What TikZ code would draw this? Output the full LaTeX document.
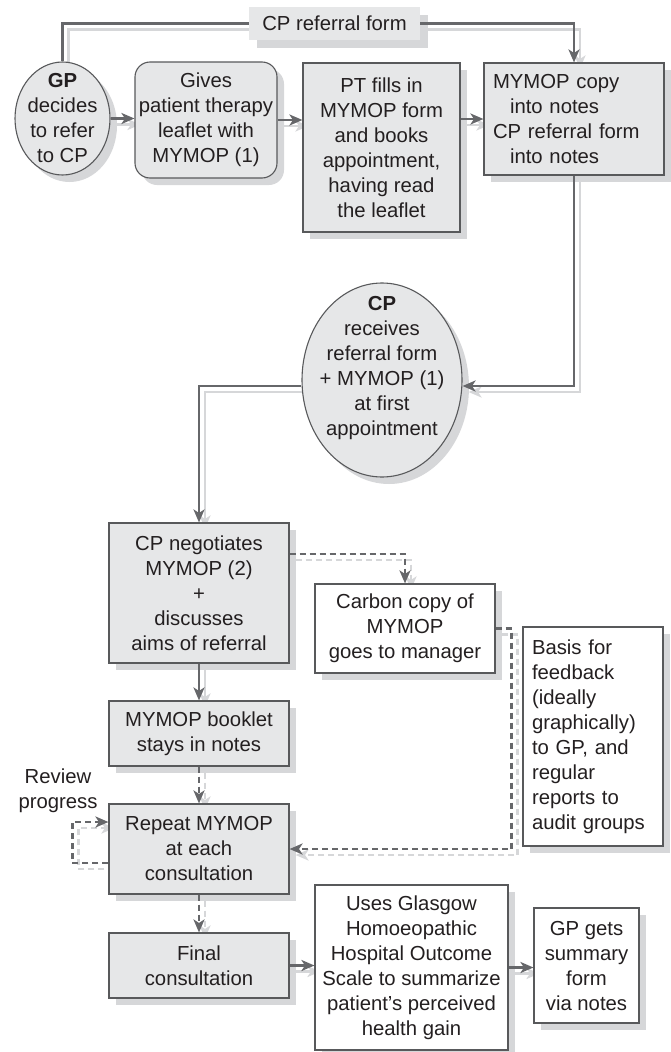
\documentclass[tikz,border=0pt]{standalone}
\usepackage{fontspec}
\setmainfont{Liberation Sans}
\usetikzlibrary{shapes.geometric,arrows.meta,shadows}
\pgfdeclarelayer{back}
\pgfsetlayers{back,main}
\definecolor{boxfill}{HTML}{E6E7E8}
\definecolor{shadefill}{HTML}{D6D7D9}
\definecolor{edge}{HTML}{58595B}
\definecolor{linkclr}{HTML}{66676A}
\definecolor{ink}{HTML}{231F20}

% all connectors of the flow chart; drawn twice (light offset copy, then dark)
\newcommand\flowlinks{%
  \draw[link] (gp.north) |- (referral.west);
  \draw[link,arrowend] (referral.east) -| (copy.north);
  \draw[link,arrowend] (gp.east) -- (gp.east -| gives.west);
  \draw[link,arrowend] (gives.east) -- (gives.east -| pt.west);
  \draw[link,arrowend] (pt.east |- copy.west) -- (copy.west);
  \draw[link,arrowend] (copy.south) |- ([yshift=-6pt]cp.east);
  \draw[link,arrowend] ([yshift=-6pt]cp.west) -| (cpneg.north);
  \draw[link,arrowend] (cpneg.south) -- (booklet.north);
  \draw[link,dashlink,arrowend] ([yshift=39pt]cpneg.east) -| (carbon.north);
  \draw[link,dashlink,arrowend] (carbon.east) -- ++(16,0) |- (rep.east);
  \draw[link,dashlink,arrowend] (booklet.south) -- (rep.north);
  \draw[link,dashlink,arrowend] ([yshift=-14pt]rep.west) -- ++(-36,0) |- ([yshift=27pt]rep.west);
  \draw[link,dashlink,arrowend] (rep.south) -- (final.north);
  \draw[link,arrowend] (final.east) -- (final.east -| uses.west);
  \draw[link,arrowend] (uses.east) -- (uses.east -| gpgets.west);
}

\begin{document}
\begin{tikzpicture}[x=1pt,y=-1pt,
  every node/.style={font=\fontsize{20.3}{25}\selectfont, text=ink},
  sh/.style={drop shadow={shadow xshift=7pt,shadow yshift=-7pt,fill=shadefill,opacity=1}},
  graybox/.style={draw=edge, line width=1.1pt, fill=boxfill, sh, align=center, inner sep=1.5pt},
  whitebox/.style={graybox, fill=white},
  oval/.style={ellipse, draw=edge, line width=1.1pt, fill=boxfill, sh, inner sep=0pt},
  plain/.style={align=center, inner sep=0pt},
  link/.style={draw=linkclr, line width=2.6pt},
  dashlink/.style={dash pattern=on 6pt off 4pt},
  arrowend/.style={-{Stealth[length=13pt,width=11pt,inset=3.5pt]}}]
\useasboundingbox (0,0) rectangle (670,1052);

% top row
\node[oval, minimum width=95pt, minimum height=113pt] (gp) at (62.5,118.5) {};
\node[plain] (gptext) at (62.5,118) {\textbf{GP}\\decides\\to refer\\to CP};
\node[graybox, rounded corners=15pt, minimum width=142pt, minimum height=116pt] (gives) at (206,120)
  {Gives\\patient therapy\\leaflet with\\MYMOP (1)};
\node[graybox, minimum width=157pt, minimum height=169pt] (pt) at (381.5,147.5)
  {PT fills in\\MYMOP form\\and books\\appointment,\\having read\\the leaflet};
\node[graybox, minimum width=180pt, minimum height=112pt, text width=162pt, inner xsep=9pt, align=left] (copy) at (574,119)
  {MYMOP copy\\\hspace*{17pt}into notes\\CP referral form\\\hspace*{17pt}into notes};
\node[fill=boxfill, minimum width=171pt, minimum height=33pt, inner sep=0pt, drop shadow={shadow xshift=8pt,shadow yshift=-8pt,fill=shadefill,opacity=1}] (referral) at (334.5,23.5) {CP referral form};

% CP ellipse
\node[oval, minimum width=160pt, minimum height=194pt] (cp) at (382,380) {};
\node[plain] (cptext) at (382,368) {\textbf{CP}\\receives\\referral form\\+ MYMOP (1)\\at first\\appointment};

% left column
\node[graybox, minimum width=180pt, minimum height=140pt] (cpneg) at (199,593)
  {CP negotiates\\MYMOP (2)\\+\\discusses\\aims of referral};
\node[graybox, minimum width=180pt, minimum height=65pt] (booklet) at (199,733.5)
  {MYMOP booklet\\stays in notes};
\node[graybox, minimum width=180pt, minimum height=90pt] (rep) at (199,849)
  {Repeat MYMOP\\at each\\consultation};
\node[graybox, minimum width=180pt, minimum height=65pt] (final) at (199,965.5)
  {Final\\consultation};
\node[plain] (review) at (58,791) {Review\\progress};

% right side
\node[whitebox, minimum width=180pt, minimum height=89pt] (carbon) at (405,628.5)
  {Carbon copy of\\MYMOP\\goes to manager};
\node[whitebox, minimum width=140pt, minimum height=219pt, text width=122pt, inner xsep=9pt, align=left] (basis) at (593,736.5)
  {Basis for\\feedback\\(ideally\\graphically)\\to GP, and\\regular\\reports to\\audit groups};
\node[whitebox, minimum width=193pt, minimum height=165pt] (uses) at (411.5,967.5)
  {Uses Glasgow\\Homoeopathic\\Hospital Outcome\\Scale to summarize\\patient’s perceived\\health gain};
\node[whitebox, minimum width=105pt, minimum height=115pt] (gpgets) at (586.5,965.5)
  {GP gets\\summary\\form\\via notes};

% connectors: light offset copy underneath, then the dark lines
\begin{pgfonlayer}{back}
  \begin{scope}[transform canvas={shift={(6pt,-6pt)}}, link/.style={draw=shadefill, line width=2.6pt}]
    \flowlinks
  \end{scope}
\end{pgfonlayer}
\flowlinks
\end{tikzpicture}
\end{document}
